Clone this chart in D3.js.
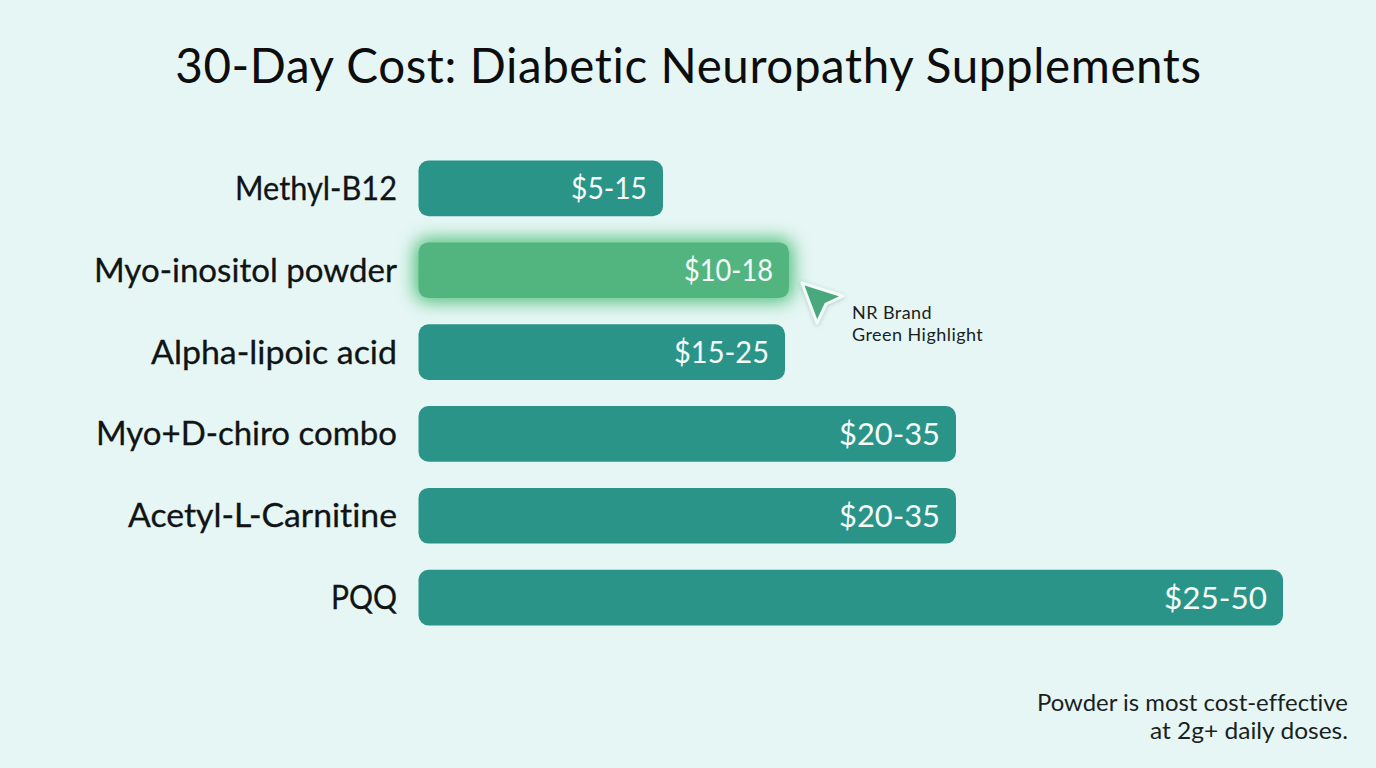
<!DOCTYPE html>
<html><head><meta charset="utf-8">
<script src="https://cdnjs.cloudflare.com/ajax/libs/d3/7.8.5/d3.min.js"></script>
<style>html,body{margin:0;padding:0;background:#e6f6f4}svg{display:block}
text{font-variant-ligatures:none;font-family:Lato,'Noto Sans',sans-serif}</style>
</head><body><div id="chart"></div>
<script>
const categories=["Methyl-B12","Myo-inositol powder","Alpha-lipoic acid","Myo+D-chiro combo","Acetyl-L-Carnitine","PQQ"];
const maxCost=[15,18,25,35,35,50];
const priceLabels=["$5-15","$10-18","$15-25","$20-35","$20-35","$25-50"];
const noteLines=["NR Brand","Green Highlight"];
const footLines=["Powder is most cost-effective","at 2g+ daily doses."];
const highlighted="Myo-inositol powder";
const W=1376,H=768;

// Set widths for the row text, so each string fills its column evenly.
const nameFit=[162,303,246,301,269,66];
const priceFit=[76,89,95,101,101,103];
const footFit=[311,198];

const svg=d3.select("#chart").append("svg").attr("width",W).attr("height",H);
const defs=svg.append("defs");
const glow=defs.append("filter").attr("id","glow").attr("x","-15%").attr("y","-80%").attr("width","130%").attr("height","260%");
glow.append("feGaussianBlur").attr("stdDeviation",9);
const soft=defs.append("filter").attr("id","soft").attr("x","-30%").attr("y","-30%").attr("width","160%").attr("height","160%");
soft.append("feDropShadow").attr("dx",0).attr("dy",1).attr("stdDeviation",2).attr("flood-color","#2d6b5c").attr("flood-opacity",0.3);

// Bar length is keyed to the upper end of each price range, one stop per price.
const x=d3.scaleLinear().domain([0,15,18,25,35,50]).range([418.5,663,789,785,956,1283]);
const y=d3.scaleBand().domain(categories).range([147.5,638.5]).paddingInner(0.32).paddingOuter(0.16);
const row=c=>categories.indexOf(c);

svg.append("rect").attr("width",W).attr("height",H).attr("fill","#e6f6f4");
svg.append("text").attr("x",688.5).attr("y",83).attr("text-anchor","middle")
  .attr("font-size",47.5).attr("letter-spacing",0.6).attr("fill","#0d0d0d")
  .text("30-Day Cost: Diabetic Neuropathy Supplements");

const rows=svg.selectAll("g.row").data(categories).join("g").attr("class","row");
rows.filter(d=>d===highlighted).append("rect")
  .attr("x",x(0)-4).attr("y",d=>y(d)-4)
  .attr("width",d=>x(maxCost[row(d)])-x(0)+8).attr("height",y.bandwidth()+8)
  .attr("rx",13).attr("fill","#4fbf7c").attr("filter","url(#glow)");
rows.append("rect").attr("x",x(0)).attr("y",d=>y(d))
  .attr("width",d=>x(maxCost[row(d)])-x(0)).attr("height",y.bandwidth()).attr("rx",10)
  .attr("fill",d=>d===highlighted?"#52b580":"#2a9488");
rows.append("text").attr("x",397).attr("y",d=>y(d)+y.bandwidth()/2+11.5)
  .attr("text-anchor","end").attr("font-size",32).attr("fill","#101414")
  .attr("stroke","#101414").attr("stroke-width",0.3)
  .attr("textLength",d=>nameFit[row(d)]).attr("lengthAdjust","spacingAndGlyphs").text(d=>d);
rows.append("text").attr("x",d=>x(maxCost[row(d)])-16).attr("y",d=>y(d)+y.bandwidth()/2+11)
  .attr("text-anchor","end").attr("font-size",31).attr("fill","#f4fbf9")
  .attr("textLength",d=>priceFit[row(d)]).attr("lengthAdjust","spacingAndGlyphs").text(d=>priceLabels[row(d)]);

svg.append("path").attr("d",d3.line()([[802,283],[843,296],[826,304],[817,323]])+"Z")
  .attr("fill","#4aa97b").attr("stroke","#f2fbf8").attr("stroke-width",3).attr("stroke-linejoin","round").attr("filter","url(#soft)");

const note=svg.append("text").attr("font-size",18).attr("letter-spacing",0.45).attr("fill","#1a1f1f");
note.selectAll("tspan").data(noteLines).join("tspan").attr("x",852).attr("y",(d,i)=>319+22*i).text(d=>d);
svg.selectAll("text.foot").data(footLines).join("text").attr("class","foot")
  .attr("x",1348).attr("y",(d,i)=>711+28*i).attr("text-anchor","end")
  .attr("font-size",23).attr("fill","#1a1f1f")
  .attr("textLength",(d,i)=>footFit[i]).attr("lengthAdjust","spacingAndGlyphs").text(d=>d);
</script></body></html>
